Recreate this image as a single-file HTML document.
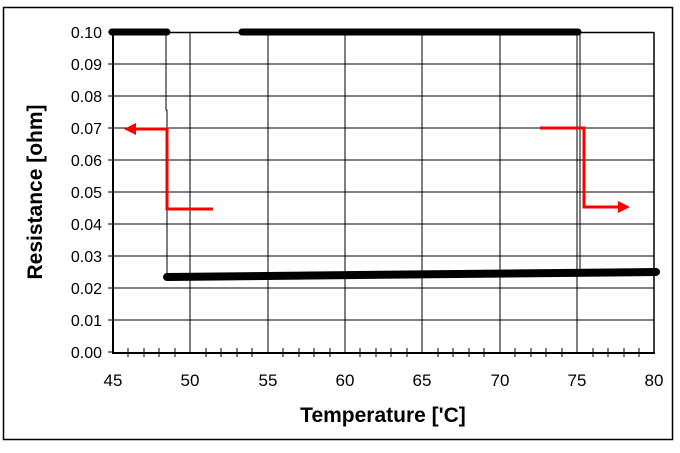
<!DOCTYPE html><html><head><style>body{margin:0;background:#fff}</style></head><body>
<svg width="680" height="448" xmlns="http://www.w3.org/2000/svg" font-family="Liberation Sans, sans-serif">
<rect x="3.5" y="7.5" width="669" height="432" fill="#fff" stroke="#000" stroke-width="1.5"/>
<g stroke="#000" stroke-width="1">
<line x1="113" y1="64" x2="654" y2="64"/><line x1="113" y1="96" x2="654" y2="96"/><line x1="113" y1="128" x2="654" y2="128"/><line x1="113" y1="160" x2="654" y2="160"/><line x1="113" y1="192" x2="654" y2="192"/><line x1="113" y1="224" x2="654" y2="224"/><line x1="113" y1="256" x2="654" y2="256"/><line x1="113" y1="288" x2="654" y2="288"/><line x1="113" y1="320" x2="654" y2="320"/>
<line x1="190" y1="32" x2="190" y2="352"/><line x1="268" y1="32" x2="268" y2="352"/><line x1="345" y1="32" x2="345" y2="352"/><line x1="422" y1="32" x2="422" y2="352"/><line x1="500" y1="32" x2="500" y2="352"/><line x1="577" y1="32" x2="577" y2="352"/>
<line x1="113" y1="32.5" x2="654" y2="32.5" stroke-width="1.5"/><line x1="654" y1="32" x2="654" y2="352" stroke-width="1.5"/>
</g>
<g stroke="#000" stroke-width="1">
<path d="M128 348v9M144 348v9M159 348v9M175 348v9M206 348v9M221 348v9M237 348v9M252 348v9M283 348v9M299 348v9M314 348v9M330 348v9M360 348v9M376 348v9M391 348v9M407 348v9M438 348v9M453 348v9M469 348v9M484 348v9M515 348v9M531 348v9M546 348v9M562 348v9M593 348v9M608 348v9M624 348v9M639 348v9"/>
<path d="M108 32h5M108 64h5M108 96h5M108 128h5M108 160h5M108 192h5M108 224h5M108 256h5M108 288h5M108 320h5M108 352h5"/>
</g>
<line x1="113" y1="32" x2="113" y2="353" stroke="#000" stroke-width="2"/>
<line x1="112" y1="353" x2="655" y2="353" stroke="#000" stroke-width="2"/>
<g stroke="#000" stroke-linecap="round">
<line x1="112" y1="32" x2="167" y2="32" stroke-width="7"/>
<line x1="242" y1="32" x2="578" y2="32" stroke-width="7"/>
<line x1="167" y1="277" x2="656" y2="272" stroke-width="8"/>
<line x1="166" y1="32" x2="166" y2="110" stroke-width="1"/>
<line x1="167" y1="110" x2="167" y2="277" stroke-width="1"/>
<line x1="577" y1="32" x2="577" y2="272" stroke-width="1"/>
<line x1="580" y1="32" x2="580" y2="272" stroke-width="1"/>
</g>
<g stroke="#f00" stroke-width="3" fill="none">
<path d="M213 209H167V129H133"/><path d="M540 128H584V207H620"/>
</g>
<polygon points="124,129 136,123 136,135" fill="#f00"/>
<polygon points="630,207 618,201 618,213" fill="#f00"/>
<g font-size="16" text-anchor="end" fill="#000">
<text x="102" y="38">0.10</text><text x="102" y="70">0.09</text><text x="102" y="102">0.08</text><text x="102" y="134">0.07</text><text x="102" y="166">0.06</text><text x="102" y="198">0.05</text><text x="102" y="230">0.04</text><text x="102" y="262">0.03</text><text x="102" y="294">0.02</text><text x="102" y="326">0.01</text><text x="102" y="358">0.00</text>
</g>
<g font-size="17" text-anchor="middle">
<text x="113" y="386">45</text><text x="190" y="386">50</text><text x="268" y="386">55</text><text x="345" y="386">60</text><text x="422" y="386">65</text><text x="500" y="386">70</text><text x="577" y="386">75</text><text x="654" y="386">80</text>
</g>
<text x="383" y="422" font-size="21" font-weight="bold" text-anchor="middle">Temperature ['C]</text>
<text transform="translate(42,192) rotate(-90)" font-size="21" font-weight="bold" text-anchor="middle">Resistance [ohm]</text>
</svg></body></html>
